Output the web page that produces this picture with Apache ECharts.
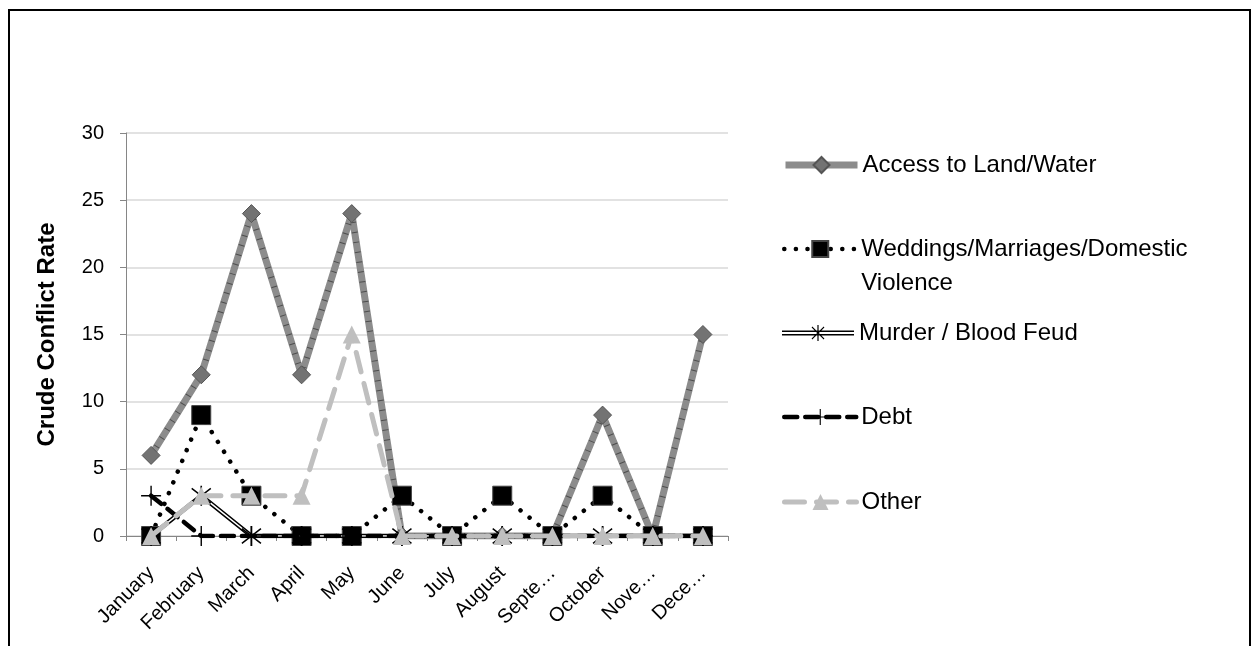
<!DOCTYPE html>
<html>
<head>
<meta charset="utf-8">
<script src="https://cdn.jsdelivr.net/npm/echarts@6/dist/echarts.min.js"></script>
<style>
  html, body { margin: 0; padding: 0; background: #fff; }
  #chart { width: 1252px; height: 646px; }
</style>
</head>
<body>
<div id="chart"></div>
<script>
const tickLabels = ['January', 'February', 'March', 'April', 'May', 'June', 'July', 'August', 'Septe…', 'October', 'Nove…', 'Dece…'];
const accessLandWater = [6, 12, 24, 12, 24, 0, 0, 0, 0, 9, 0, 15];
const weddingsMarriages = [0, 9, 3, 0, 0, 3, 0, 3, 0, 3, 0, 0];
const murderBloodFeud = [0, 3, 0, 0, 0, 0, 0, 0, 0, 0, 0, 0];
const debt = [3, 0, 0, 0, 0, 0, 0, 0, 0, 0, 0, 0];
const other = [0, 3, 3, 3, 15, 0, 0, 0, 0, 0, 0, 0];
const yTicks = [0, 5, 10, 15, 20, 25, 30];

const asteriskPath = 'path://M9.3 0 H10.7 V20 H9.3 Z M1.2 3.2 L2.0 2.0 L18.8 16.8 L18.0 18.0 Z M18.0 2.0 L18.8 3.2 L2.0 18.0 L1.2 16.8 Z';
const plusPath = 'path://M9.3 0 H10.7 V20 H9.3 Z M0 9.3 H20 V10.7 H0 Z';
// legend icon: double line with asterisk (72 x 20 box)
const murderLegendIcon = 'path://M0 7.6 H72 V8.9 H0 Z M0 11.1 H72 V12.4 H0 Z' +
  ' M35.4 2 H36.6 V18 H35.4 Z M29.6 4.6 L30.3 3.6 L42.4 15.4 L41.7 16.4 Z M41.7 3.6 L42.4 4.6 L30.3 16.4 L29.6 15.4 Z';

const FONT = '"Liberation Sans", Arial, sans-serif';
const chart = echarts.init(document.getElementById('chart'), null, { renderer: 'canvas' });

const names = {
  access: 'Access to Land/Water',
  wed: 'Weddings/Marriages/Domestic Violence',
  murder: 'Murder / Blood Feud',
  debt: 'Debt',
  other: 'Other'
};

function legendAt(item, top, extra) {
  return Object.assign({
    data: [item],
    orient: 'vertical',
    left: 782,
    top: top,
    padding: 0,
    itemWidth: 72,
    itemHeight: 20,
    selectedMode: false,
    lineStyle: { width: 'inherit' },
    textStyle: { fontFamily: FONT, fontSize: 24, color: '#000', lineHeight: 28 }
  }, extra || {});
}

chart.setOption({
  animation: false,
  backgroundColor: '#fff',
  graphic: [{
    type: 'rect',
    shape: { x: 9, y: 10, width: 1241, height: 700 },
    style: { fill: 'none', stroke: '#000', lineWidth: 2 },
    silent: true,
    z: 100
  }],
  grid: { left: 126, right: 524, top: 133, bottom: 110, containLabel: false },
  legend: [
    legendAt(names.access, 151),
    legendAt(names.wed, 198, {
      formatter: function () { return ' \nWeddings/Marriages/Domestic\nViolence'; },
      textStyle: { fontFamily: FONT, fontSize: 24, color: '#000', lineHeight: 34 }
    }),
    legendAt({ name: names.murder, icon: murderLegendIcon, itemStyle: { color: '#000' } }, 319),
    legendAt(names.debt, 403),
    legendAt(names.other, 488)
  ],
  xAxis: {
    type: 'category',
    data: tickLabels,
    boundaryGap: true,
    axisLine: { show: true, lineStyle: { color: '#868686', width: 1 } },
    axisTick: { show: true, length: 5, interval: 0, lineStyle: { color: '#868686' } },
    axisLabel: { interval: 0, rotate: 45, margin: 34, fontFamily: FONT, fontSize: 20, color: '#000' },
    splitLine: { show: false }
  },
  yAxis: {
    type: 'value',
    min: yTicks[0],
    max: yTicks[yTicks.length - 1],
    interval: 5,
    name: 'Crude Conflict Rate',
    nameLocation: 'middle',
    nameGap: 67,
    nameTextStyle: { fontFamily: FONT, fontSize: 24, fontWeight: 'bold', color: '#000' },
    axisLine: { show: true, lineStyle: { color: '#868686', width: 1 } },
    axisTick: { show: true, length: 6, lineStyle: { color: '#868686' } },
    axisLabel: { margin: 22, fontFamily: FONT, fontSize: 20, color: '#000' },
    splitLine: { show: true, lineStyle: { color: '#d9d9d9', width: 1.5 } }
  },
  series: [
    {
      name: names.access,
      type: 'line',
      data: accessLandWater,
      symbol: 'diamond',
      symbolSize: 18,
      lineStyle: { color: '#8c8c8c', width: 7 },
      itemStyle: { color: '#737373', borderColor: '#555', borderWidth: 1 },
      z: 2
    },
    {
      name: 'access-hatch',
      type: 'line',
      data: accessLandWater,
      symbol: 'none',
      lineStyle: { color: '#333', width: 6, type: [1, 9], opacity: 0.7 },
      silent: true,
      z: 2
    },
    {
      name: names.wed,
      type: 'line',
      data: weddingsMarriages,
      symbol: 'rect',
      symbolSize: 19,
      lineStyle: { color: '#000', width: 4.5, type: [0.1, 11.5], cap: 'round' },
      itemStyle: { color: '#000', borderColor: '#444', borderWidth: 1 },
      z: 3
    },
    {
      name: names.murder,
      type: 'line',
      data: murderBloodFeud,
      symbol: asteriskPath,
      symbolSize: 20,
      lineStyle: { color: '#000', width: 4.5 },
      itemStyle: { color: '#000' },
      z: 4
    },
    {
      name: 'murder-inner',
      type: 'line',
      data: murderBloodFeud,
      symbol: 'none',
      lineStyle: { color: '#fff', width: 1.6 },
      silent: true,
      z: 4
    },
    {
      name: names.debt,
      type: 'line',
      data: debt,
      symbol: plusPath,
      symbolSize: 20,
      lineStyle: { color: '#000', width: 4.5, type: [13, 8], cap: 'round' },
      itemStyle: { color: '#000' },
      z: 5
    },
    {
      name: names.other,
      type: 'line',
      data: other,
      symbol: 'triangle',
      symbolSize: 18,
      lineStyle: { color: '#bfbfbf', width: 5, type: [20, 12], cap: 'round' },
      itemStyle: { color: '#bfbfbf' },
      z: 6
    }
  ]
});
</script>
</body>
</html>
